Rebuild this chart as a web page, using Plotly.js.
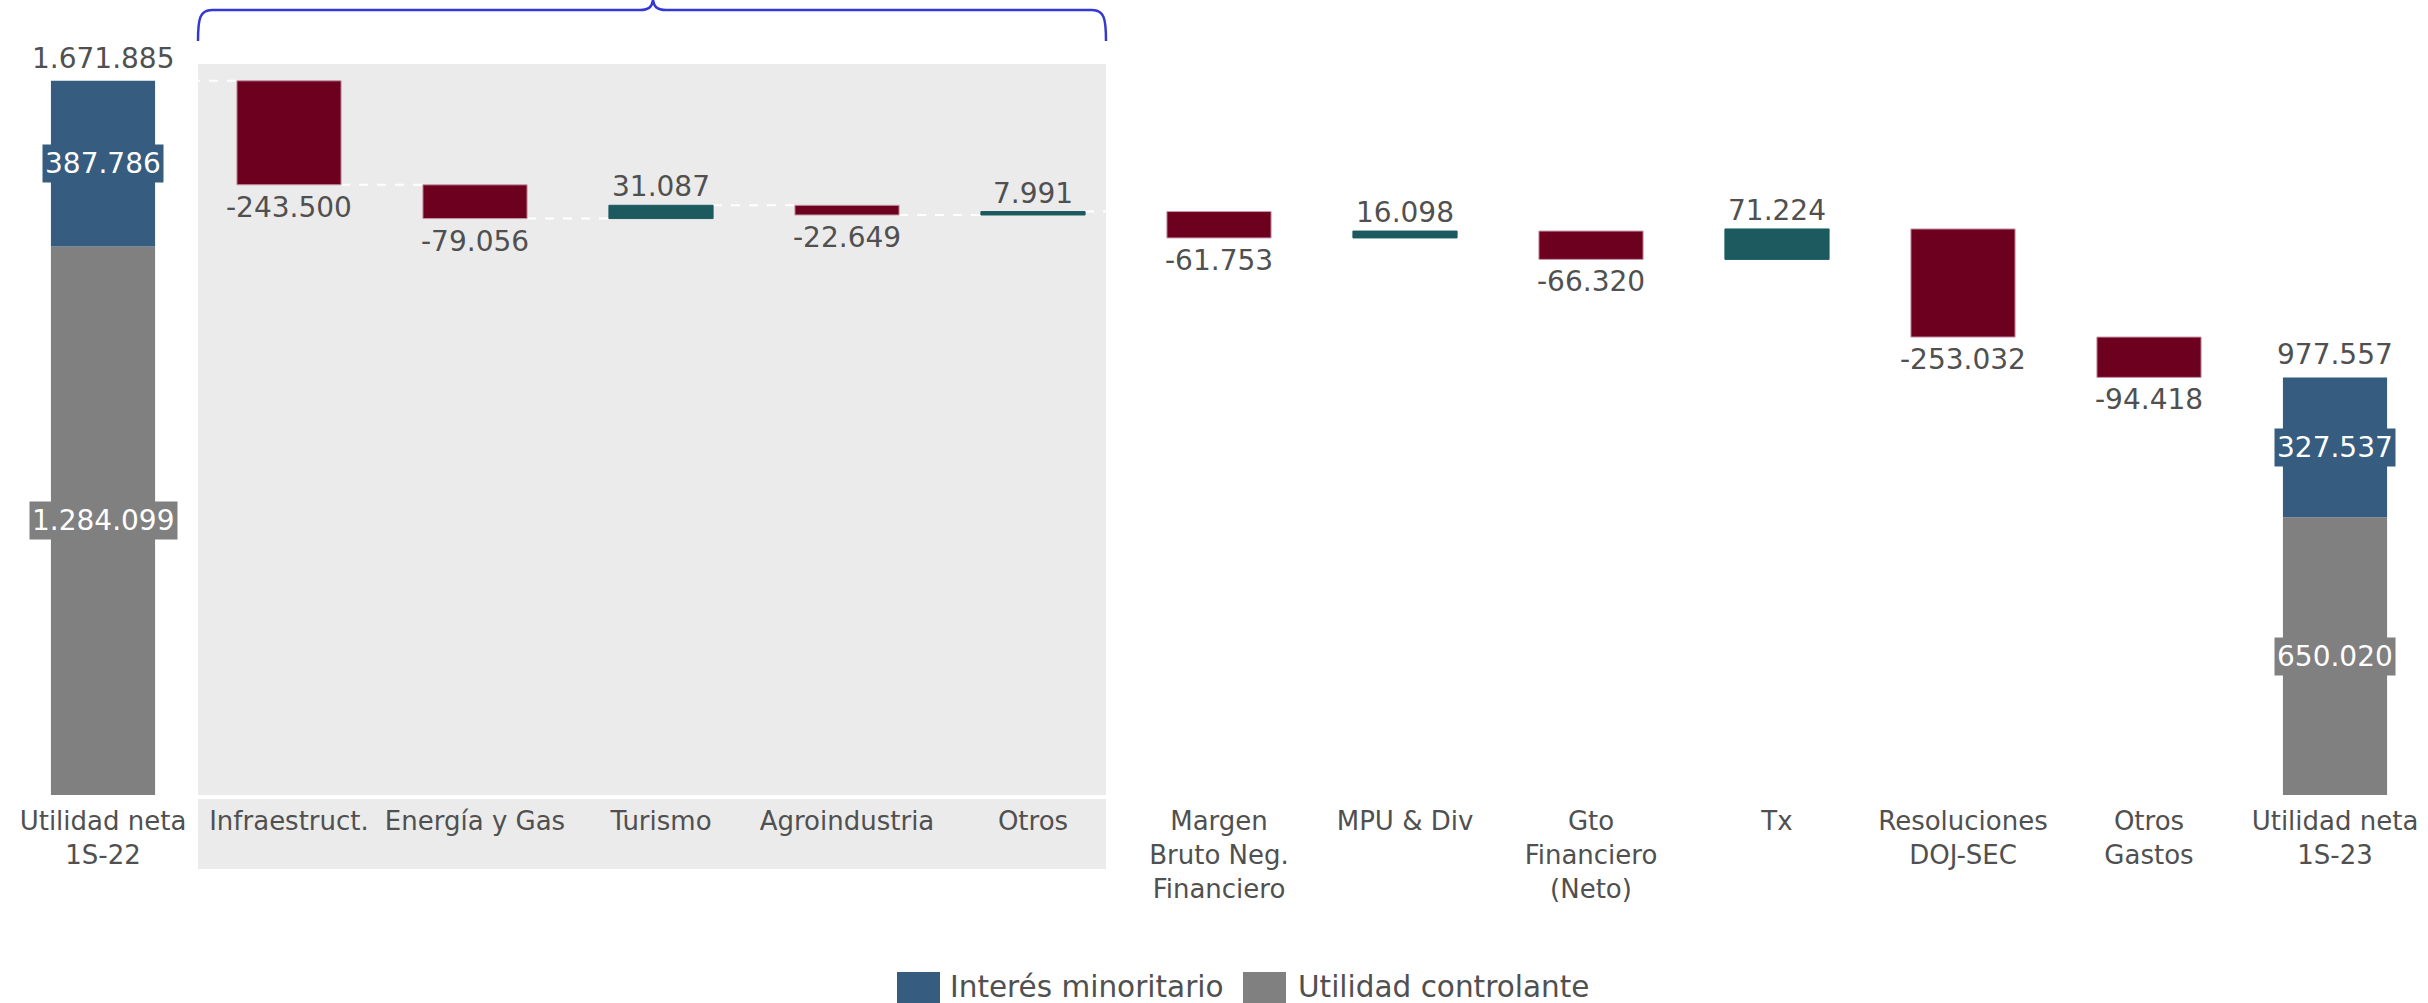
<!DOCTYPE html>
<html>
<head>
<meta charset="utf-8">
<script src="https://cdn.plot.ly/plotly-3.0.1.min.js"></script>
<style>html,body{margin:0;padding:0;background:#fff;}#chart{width:2428px;height:1003px;}</style>
</head>
<body>
<div id="chart"></div>
<script>
// ---- data ----
const categories = ['Utilidad neta<br>1S-22', 'Infraestruct.', 'Energía y Gas', 'Turismo', 'Agroindustria', 'Otros',
  'Margen<br>Bruto Neg.<br>Financiero', 'MPU & Div', 'Gto<br>Financiero<br>(Neto)', 'Tx', 'Resoluciones<br>DOJ-SEC',
  'Otros<br>Gastos', 'Utilidad neta<br>1S-23'];
const startMinority = 387786;
const startControlling = 1284099;
const endMinority = 327537;
const endControlling = 650020;
const changes = [-243500, -79056, 31087, -22649, 7991, -61753, 16098, -66320, 71224, -253032, -94418];
const legendNames = ['Interés minoritario', 'Utilidad controlante'];

// ---- styles ----
const C_RED = '#6D001E', C_TEAL = '#1C5A60', C_BLUE = '#365C80', C_GREY = '#808080';
const C_PANEL = '#EBEBEB', C_TEXT = '#505050', C_BRACE = '#3438D2';
const FONT = 'DejaVu Sans';

const fmt = v => (v < 0 ? '-' : '') + Math.abs(v).toString().replace(/\B(?=(\d{3})+(?!\d))/g, '.');

const W = 2428, H = 1003, mL = 10, mR = 0, mT = 41, mB = 208;
const pw = W - mL - mR, ph = H - mT - mB;
const px = x => (x - mL) / pw;
const py = y => (H - mB - y) / ph;

const idx = categories.map((c, i) => i);
const lastIdx = categories.length - 1;
const startTotal = startMinority + startControlling;
const endTotal = endMinority + endControlling;

// waterfall
const chX = [], chBase = [], chCol = [], chLine = [];
const levels = [startTotal];
let cum = startTotal;
changes.forEach((d, i) => {
  chX.push(i + 1);
  chBase.push(cum);
  chCol.push(d < 0 ? C_RED : C_TEAL);
  chLine.push(d < 0 ? '#C796A8' : C_TEAL);
  cum += d;
  levels.push(cum);
});

const BW = 0.56;

const traces = [
  {
    type: 'bar', name: legendNames[1], x: [0, lastIdx], y: [startControlling, endControlling], base: [0, 0],
    width: BW, marker: {color: C_GREY}, showlegend: false, hoverinfo: 'skip'
  },
  {
    type: 'bar', name: legendNames[0], x: [0, lastIdx], y: [startMinority, endMinority],
    base: [startControlling, endControlling],
    width: BW, marker: {color: C_BLUE}, showlegend: false, hoverinfo: 'skip'
  },
  {
    type: 'bar', name: 'Variación', x: chX, y: changes, base: chBase, width: BW,
    marker: {color: chCol, line: {color: chLine, width: 1}},
    showlegend: false, hoverinfo: 'skip'
  }
];

// shapes
const shapes = [];
shapes.push({type: 'rect', xref: 'paper', yref: 'paper', x0: px(198), x1: px(1106), y0: py(869), y1: py(64),
  fillcolor: C_PANEL, line: {width: 0}, layer: 'below'});
levels.forEach((lv, i) => {
  if (i < lastIdx) {
    shapes.push({type: 'line', xref: 'x', yref: 'y', x0: i + BW / 2, x1: i + 1 - BW / 2, y0: lv, y1: lv,
      line: {color: '#FFFFFF', width: 2, dash: 'dash'}, layer: 'below'});
  }
});
const P = (x, y) => px(x) + ',' + py(y);
const bracePath = 'M' + P(198, 41) + ' C' + P(198, 18) + ' ' + P(200, 10) + ' ' + P(212, 10) +
  ' L' + P(640, 10) + ' C' + P(650, 10) + ' ' + P(652, 6) + ' ' + P(653, 0) +
  ' C' + P(654, 6) + ' ' + P(656, 10) + ' ' + P(666, 10) +
  ' L' + P(1092, 10) + ' C' + P(1104, 10) + ' ' + P(1106, 18) + ' ' + P(1106, 41);
shapes.push({type: 'path', xref: 'paper', yref: 'paper', path: bracePath, line: {color: C_BRACE, width: 2.5}});
// custom legend swatches
shapes.push({type: 'rect', xref: 'paper', yref: 'paper', x0: px(897), x1: px(940), y0: py(1003), y1: py(972),
  fillcolor: C_BLUE, line: {width: 0}});
shapes.push({type: 'rect', xref: 'paper', yref: 'paper', x0: px(1243), x1: px(1286), y0: py(1003), y1: py(972),
  fillcolor: C_GREY, line: {width: 0}});

// annotations
const annotations = [];
changes.forEach((d, i) => {
  annotations.push({x: i + 1, y: levels[i + 1], xref: 'x', yref: 'y', text: fmt(d), showarrow: false,
    yanchor: d < 0 ? 'top' : 'bottom', yshift: d < 0 ? -4 : 0,
    font: {family: FONT, size: 28, color: C_TEXT}});
});
[[0, startTotal], [lastIdx, endTotal]].forEach(([x, t]) => {
  annotations.push({x: x, y: t, xref: 'x', yref: 'y', text: fmt(t), showarrow: false, yanchor: 'bottom', yshift: 4,
    font: {family: FONT, size: 28, color: C_TEXT}});
});
[[0, startControlling, startMinority], [lastIdx, endControlling, endMinority]].forEach(([x, c, m]) => {
  annotations.push({x: x, y: c + m / 2, xref: 'x', yref: 'y', text: fmt(m), showarrow: false, bgcolor: C_BLUE,
    borderpad: 2, font: {family: FONT, size: 28, color: '#FFFFFF'}});
  annotations.push({x: x, y: c / 2, xref: 'x', yref: 'y', text: fmt(c), showarrow: false, bgcolor: C_GREY,
    borderpad: 2, font: {family: FONT, size: 28, color: '#FFFFFF'}});
});
annotations.push({x: px(948), y: py(987), xref: 'paper', yref: 'paper', text: legendNames[0], showarrow: false,
  xanchor: 'left', yanchor: 'middle', font: {family: FONT, size: 29.5, color: C_TEXT}});
annotations.push({x: px(1296), y: py(987), xref: 'paper', yref: 'paper', text: legendNames[1], showarrow: false,
  xanchor: 'left', yanchor: 'middle', font: {family: FONT, size: 29.5, color: C_TEXT}});

const layout = {
  width: W, height: H,
  margin: {l: mL, r: mR, t: mT, b: mB, pad: 0},
  paper_bgcolor: '#FFFFFF', plot_bgcolor: 'rgba(0,0,0,0)',
  barmode: 'overlay',
  showlegend: false,
  xaxis: {
    type: 'linear', range: [-0.5, lastIdx + 0.5], tickmode: 'array', tickvals: idx, ticktext: categories,
    showgrid: false, zeroline: false, showline: true, linecolor: '#FFFFFF', linewidth: 4, ticks: '',
    tickfont: {family: FONT, size: 26, color: C_TEXT}, tickangle: 0, fixedrange: true
  },
  yaxis: {
    range: [0, 1765000], showgrid: false, zeroline: false, showline: false, showticklabels: false, ticks: '',
    fixedrange: true
  },
  shapes: shapes,
  annotations: annotations
};

Plotly.newPlot('chart', traces, layout, {staticPlot: true, displayModeBar: false});
</script>
</body>
</html>
